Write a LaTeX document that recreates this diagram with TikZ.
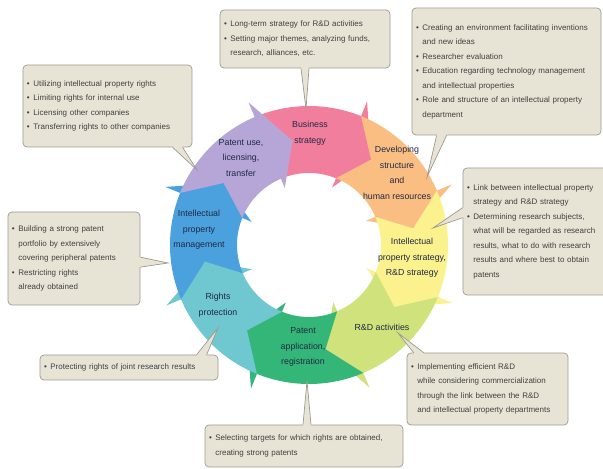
\documentclass[tikz,border=0pt]{standalone}
\usepackage{fontspec}
\setmainfont{Liberation Sans}
\usepackage{xcolor}
\definecolor{seg-pink}{HTML}{F27E9D}
\definecolor{seg-orange}{HTML}{FBBE82}
\definecolor{seg-yellow}{HTML}{FBF28E}
\definecolor{seg-lime}{HTML}{CFE27C}
\definecolor{seg-green}{HTML}{35B679}
\definecolor{seg-teal}{HTML}{6FC7CF}
\definecolor{seg-blue}{HTML}{4AA1DE}
\definecolor{seg-lavender}{HTML}{B6A6D8}
\definecolor{note-fill}{HTML}{E8E4D5}
\definecolor{note-border}{HTML}{9C998F}
\definecolor{label-text}{HTML}{1F2A44}
\usepackage{tikz}
\usetikzlibrary{calc}

% one curved arrow of the ring: #1 tail angle, #2 colour
\newcommand{\ringarrow}[2]{%
  \fill[#2] (#1:139pt) arc[start angle=#1, end angle=#1-45, radius=139pt]
    -- (#1-45:155pt) -- (#1-59:105.5pt) -- (#1-45:62pt)
    -- (#1-45:72pt) arc[start angle=#1-45, end angle=#1, radius=72pt]
    -- (#1-14:105.5pt) -- cycle;}

% pointer of a note: #1 base, #2 tip, #3 half width, #4 inward shift
\newcommand{\notepin}[4]{%
  \fill[note-fill] ($(#1)-#3+#4$) -- ($(#1)-#3$) -- (#2) -- ($(#1)+#3$) -- ($(#1)+#3+#4$) -- cycle;
  \draw[pin] ($(#1)-#3$) -- (#2) -- ($(#1)+#3$);}

\newcommand{\bulitem}{\makebox[0.8em][l]{\textbullet}}
\newcommand{\bulcont}{\hspace*{0.8em}}

\begin{document}
\begin{tikzpicture}[
    x=1pt, y=1pt,
    seglabel/.style={
      font=\fontsize{8.8}{15.5}\selectfont,
      text=label-text,
      align=center,
      inner sep=0pt
    },
    note/.style={
      rectangle,
      draw=note-border,
      fill=note-fill,
      line width=0.7pt,
      rounded corners=4pt,
      inner xsep=4pt,
      inner ysep=3pt,
      align=left,
      font=\fontsize{8}{14.5}\selectfont,
      text=black!75
    },
    pin/.style={
      draw=note-border,
      line width=0.7pt
    }
  ]
    \useasboundingbox (0,0) rectangle (603,469);

    % ---- Ring of arrows ----
    \coordinate (ringc) at (309,224);
    \begin{scope}[shift={(ringc)}]
      \ringarrow{113}{seg-pink}
      \ringarrow{68}{seg-orange}
      \ringarrow{23}{seg-yellow}
      \ringarrow{-22}{seg-lime}
      \ringarrow{-67}{seg-green}
      \ringarrow{-112}{seg-teal}
      \ringarrow{-157}{seg-blue}
      \ringarrow{-202}{seg-lavender}
    \end{scope}

    % ---- Ring labels ----
    \node[seglabel] (bizstrat)   at (310,336) {Business\\strategy};
    \node[seglabel] (devstruct)  at (397,296) {Developing\\structure\\and\\human resources};
    \node[seglabel] (ipstrat)    at (412,211) {Intellectual\\property strategy,\\R\&D strategy};
    \node[seglabel] (rdact)      at (382,142) {R\&D activities};
    \node[seglabel] (patapp)     at (303,122) {Patent\\application,\\registration};
    \node[seglabel] (rightsprot) at (218,164) {Rights\\protection};
    \node[seglabel] (ipmgmt)     at (199,239) {Intellectual\\property\\management};
    \node[seglabel] (patuse)     at (241,311) {Patent use,\\licensing,\\transfer};

    % ---- Notes ----
    \node[note, text width=162pt, minimum height=58pt] (topbox) at (305,430)
      {\bulitem Long-term strategy for R\&D activities\\
       \bulitem Setting major themes, analyzing funds,\\
       \bulcont research, alliances, etc.};
    \node[note, text width=181pt, minimum height=127pt] (devbox) at (506.5,397.5)
      {\bulitem Creating an environment facilitating inventions\\
       \bulcont and new ideas\\
       \bulitem Researcher evaluation\\
       \bulitem Education regarding technology management\\
       \bulcont and intellectual properties\\
       \bulitem Role and structure of an intellectual property\\
       \bulcont department};
    \node[note, text width=161pt, minimum height=82pt] (usebox) at (107.5,363)
      {\bulitem Utilizing intellectual property rights\\
       \bulitem Limiting rights for internal use\\
       \bulitem Licensing other companies\\
       \bulitem Transferring rights to other companies};
    \node[note, text width=142pt, minimum height=127pt] (ipbox) at (538,237.5)
      {\bulitem Link between intellectual property\\
       \bulcont strategy and R\&D strategy\\
       \bulitem Determining research subjects,\\
       \bulcont what will be regarded as research\\
       \bulcont results, what to do with research\\
       \bulcont results and where best to obtain\\
       \bulcont patents};
    \node[note, text width=124pt, minimum height=93pt] (mgmtbox) at (74,210.5)
      {\bulitem Building a strong patent\\
       \bulcont portfolio by extensively\\
       \bulcont covering peripheral patents\\
       \bulitem Restricting rights\\
       \bulcont already obtained};
    \node[note, text width=170pt, minimum height=25pt] (protbox) at (129,101.5)
      {\bulitem Protecting rights of joint research results};
    \node[note, text width=153pt, minimum height=72pt] (rdbox) at (487.5,80)
      {\bulitem Implementing efficient R\&D\\
       \bulcont while considering commercialization\\
       \bulcont through the link between the R\&D\\
       \bulcont and intellectual property departments};
    \node[note, text width=190pt, minimum height=42pt] (appbox) at (304,23)
      {\bulitem Selecting targets for which rights are obtained,\\
       \bulcont creating strong patents};

    % ---- Note pointers ----
    \coordinate (topbase)  at (topbox.south);
    \coordinate (toptip)   at (306,360);
    \coordinate (devbase)  at ($(devbox.south west)+(30,0)$);
    \coordinate (devtip)   at (427,292);
    \coordinate (usebase)  at ($(usebox.south west)+(155,0)$);
    \coordinate (usetip)   at (197,299);
    \coordinate (ipbase)   at ($(ipbox.north west)+(0,-45)$);
    \coordinate (iptip)    at (433,241);
    \coordinate (mgmtbase) at ($(mgmtbox.north east)+(0,-50.5)$);
    \coordinate (mgmttip)  at (168,206);
    \coordinate (protbase) at ($(protbox.north west)+(162,0)$);
    \coordinate (prottip)  at (218,141);
    \coordinate (rdbase)   at ($(rdbox.north west)+(12,0)$);
    \coordinate (rdtip)    at (398,136);
    \coordinate (appbase)  at ($(appbox.north)+(3,0)$);
    \coordinate (apptip)   at (307,88);

    \notepin{topbase}{toptip}{(4,0)}{(0,1.5)}
    \notepin{devbase}{devtip}{(5,0)}{(0,1.5)}
    \notepin{usebase}{usetip}{(5,0)}{(0,1.5)}
    \notepin{ipbase}{iptip}{(0,5)}{(1.5,0)}
    \notepin{mgmtbase}{mgmttip}{(0,5)}{(-1.5,0)}
    \notepin{protbase}{prottip}{(5,0)}{(0,-1.5)}
    \notepin{rdbase}{rdtip}{(5,0)}{(0,-1.5)}
    \notepin{appbase}{apptip}{(4,0)}{(0,-1.5)}
  \end{tikzpicture}
\end{document}
